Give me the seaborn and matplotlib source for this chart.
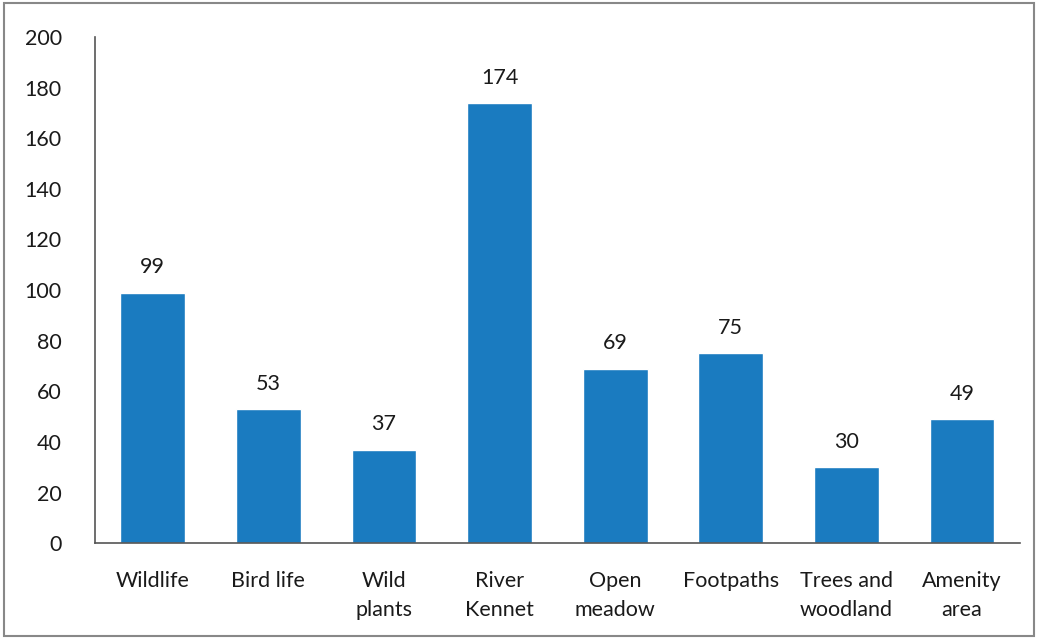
import matplotlib
matplotlib.use("Agg")
import matplotlib.pyplot as plt
import seaborn as sns
import pandas as pd

categories = ["Wildlife", "Bird life", "Wild\nplants", "River\nKennet", "Open\nmeadow",
              "Footpaths", "Trees and\nwoodland", "Amenity\narea"]
values = [99, 53, 37, 174, 69, 75, 30, 49]
yticks = [0, 20, 40, 60, 80, 100, 120, 140, 160, 180, 200]

sns.set_theme(style="white")
plt.rcParams['font.family'] = ['Lato', 'DejaVu Sans']

df = pd.DataFrame({"cat": categories, "val": values})
fig = plt.figure(figsize=(10.38, 6.39), dpi=100)
ax = fig.add_axes([0.0915, 0.150, 0.891, 0.792])
sns.barplot(data=df, x="cat", y="val", color="#1a7bc0", saturation=1, width=0.56, ax=ax)
for i, v in enumerate(values):
    ax.text(i, v + 6, str(v), ha="center", va="bottom", fontsize=15.5, color="#1a1a1a")
ax.set_ylim(0, 200)
ax.set_yticks(yticks)
ax.set_xlim(-0.5, len(categories) - 0.5)
ax.tick_params(axis="both", labelsize=15.5, colors="#1a1a1a", length=0)
ax.tick_params(axis="x", pad=20)
ax.tick_params(axis="y", pad=24)
for lbl in ax.get_xticklabels():
    lbl.set_linespacing(1.55)
ax.set_xlabel("")
ax.set_ylabel("")
for s in ["top", "right"]:
    ax.spines[s].set_visible(False)
for s in ["left", "bottom"]:
    ax.spines[s].set_color("#555555")
    ax.spines[s].set_linewidth(1.2)
fig.patches.append(plt.Rectangle((0.004, 0.004), 0.992, 0.992, transform=fig.transFigure,
                                 fill=False, edgecolor="#888888", linewidth=1.5))
fig.savefig("out.png", dpi=100)
